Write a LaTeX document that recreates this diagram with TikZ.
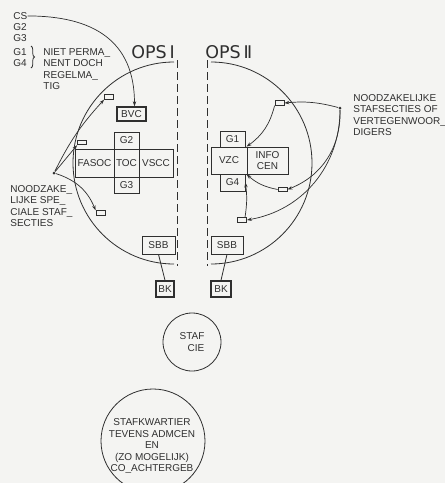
\documentclass[tikz,border=0pt]{standalone}
\usepackage{fontspec}
\setmainfont{Liberation Sans}
\newfontfamily\opsfont{DejaVu Sans}
\usetikzlibrary{arrows.meta, positioning, decorations.pathreplacing}
\definecolor{cink}{HTML}{2F2F2F}
\definecolor{cpaper}{HTML}{F4F4F2}
\newcommand\lblfont{\fontsize{10}{11.5}\selectfont}
\tikzset{
  every picture/.style={line width=0.8pt},
  box/.style={draw=cink, text=cink, inner sep=0pt, font=\lblfont, align=center},
  heavybox/.style={box, line width=1.4pt},
  sect/.style={draw=cink, inner sep=0pt, minimum width=9pt, minimum height=4.5pt},
  dot/.style={circle, fill=cink, inner sep=0pt, minimum size=3pt},
  arrow/.style={-{Stealth[length=5pt, width=3.4pt]}, draw=cink, line width=0.7pt},
  divider/.style={draw=cink, dash pattern=on 8pt off 4pt},
  note/.style={font=\lblfont, text=cink, align=left, inner sep=0pt, anchor=north west},
  title/.style={font=\opsfont\fontsize{17.5}{17.5}\selectfont, text=cink, inner sep=0pt, anchor=north west},
}

\begin{document}
\begin{tikzpicture}[x=1pt, y=1pt]
  \useasboundingbox (0,0) rectangle (445,-483);
  \fill[cpaper] (0,0) rectangle (445,-483);
  \clip (0,0) rectangle (445,-483);

  \node[note] (cs) at (13,-12) {CS};
  \node[note] (glist) at (13,-23) {G2\\G3};
  \node[note] (gtemp) at (13,-48) {G1\\G4};
  \draw[cink, decorate, decoration={brace, amplitude=3.5pt}] (31,-46) -- (31,-68);
  \node[note] (tempnote) at (43,-48) {NIET PERMA\_\\NENT DOCH\\REGELMA\_\\TIG};

  \node[title] (ops1) at (131,-45) {OPS\,Ⅰ};
  \node[title] (ops2) at (205,-45) {OPS\,Ⅱ};

  \draw[cink] (174,-62) arc[start angle=90, end angle=270, radius=101];
  \draw[cink] (211,-62) arc[start angle=90, end angle=-90, radius=101];
  \draw[divider] (177,-60) -- (177,-266);
  \draw[divider] (207,-60) -- (207,-266);

  \node[heavybox, minimum width=29pt, minimum height=14pt] (bvc) at (131.5,-114) {BVC};
  \node[box, minimum width=25pt, minimum height=28pt] (toc) at (126.5,-163) {TOC};
  \node[box, minimum width=39pt, minimum height=28pt] (fasoc) at (94.5,-163) {FASOC};
  \node[box, minimum width=34pt, minimum height=28pt] (vscc) at (156,-163) {VSCC};
  \node[box, minimum width=25pt, minimum height=17pt] (g2) at (126.5,-140.5) {G2};
  \node[box, minimum width=25pt, minimum height=16pt] (g3) at (126.5,-185) {G3};

  \node[box, minimum width=36pt, minimum height=27pt] (vzc) at (229,-160.5) {VZC};
  \node[box, minimum width=41pt, minimum height=27pt] (info) at (267.5,-160.5) {INFO\\CEN};
  \node[box, minimum width=25pt, minimum height=16pt] (g1) at (232.5,-139) {G1};
  \node[box, minimum width=25pt, minimum height=17pt] (g4) at (232.5,-182.5) {G4};

  \node[box, minimum width=33pt, minimum height=18pt] (sbbl) at (158.5,-245) {SBB};
  \node[box, minimum width=32pt, minimum height=18pt] (sbbr) at (227,-245) {SBB};
  \node[heavybox, minimum width=18pt, minimum height=16pt] (bkl) at (165,-289) {BK};
  \node[heavybox, minimum width=20pt, minimum height=16pt] (bkr) at (221,-289) {BK};
  \draw[cink] (sbbl.south) -- (bkl.north);
  \draw[cink] (sbbr.south) -- (bkr.north);

  \node[sect] (ls1) at (109,-97) {};
  \node[sect] (ls2) at (82,-142.5) {};
  \node[sect] (ls3) at (100.5,-213) {};
  \node[dot] (lp) at (54,-173) {};
  \node[note] (lnote) at (10,-185) {NOODZAKE\_\\LIJKE SPE\_\\CIALE STAF\_\\SECTIES};

  \node[sect] (rs1) at (279.5,-103) {};
  \node[sect] (rs2) at (282.5,-189.5) {};
  \node[sect] (rs3) at (242,-220) {};
  \node[dot] (rp) at (340,-108) {};
  \node[note] (rnote) at (353,-94) {NOODZAKELIJKE\\STAFSECTIES OF\\VERTEGENWOOR\_\\DIGERS};

  \draw[arrow] (cs.east) to[out=0, in=90, looseness=1.2] ([xshift=3pt]bvc.north);
  \draw[arrow] (lp) to[bend left=8] (ls1.south west);
  \draw[arrow] (lp) -- (ls2.south west);
  \draw[arrow] (lp) to[bend left=25] (ls3.north west);
  \draw[arrow] (rp) to[bend right=10] (rs1.east);
  \draw[arrow] (rp) to[bend left=35] (rs2.east);
  \draw[arrow] (rp) to[bend left=40] (rs3.east);
  \draw[arrow] (rs1.south west) to[bend left=20] (info.north west);
  \draw[arrow] (rs2.west) to[bend left=15] (info.south west);
  \draw[arrow] ([xshift=3pt]rs3.north) to[bend right=8] (g4.east);

  \node[circle, draw=cink, minimum size=58pt, inner sep=0pt, font=\lblfont, text=cink, align=right] (staf) at (192,-342) {STAF\\CIE};
  \node[circle, draw=cink, minimum size=104pt, inner sep=0pt] (hq) at (153,-441) {};
  \node[font=\lblfont, text=cink, align=center, inner sep=0pt] (hqtext) at (152,-446) {STAFKWARTIER\\TEVENS ADMCEN\\EN\\(ZO MOGELIJK)\\CO\_ACHTERGEB};
\end{tikzpicture}
\end{document}
